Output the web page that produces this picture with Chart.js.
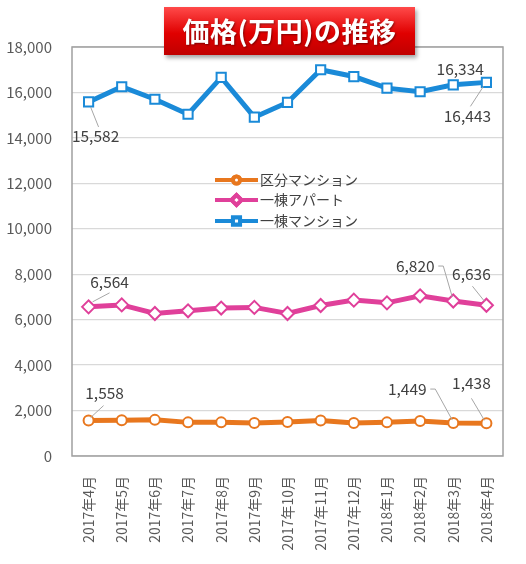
<!DOCTYPE html>
<html>
<head>
<meta charset="utf-8">
<script src="https://cdn.jsdelivr.net/npm/chart.js@4.4.0/dist/chart.umd.min.js"></script>
<style>
  html, body { margin: 0; padding: 0; background: #fff; }
  #wrap { position: relative; width: 526px; height: 564px; }
  #title {
    position: absolute; left: 164px; top: 7px; width: 251px; height: 48px;
    background: linear-gradient(#ff4a4a, #e00000 55%, #c00000);
    box-shadow: 2px 3px 4px rgba(0,0,0,0.35);
    color: #fff; font: bold 27px "Noto Sans CJK JP", sans-serif;
    text-align: center; line-height: 48px; letter-spacing: 0.5px;
    text-shadow: 1px 1px 2px rgba(0,0,0,0.4);
  }
</style>
</head>
<body>
<div id="wrap">
  <canvas id="chart" width="526" height="564"></canvas>
  <div id="title">価格(万円)の推移</div>
</div>
<script>
// data
const months = ["2017年4月", "2017年5月", "2017年6月", "2017年7月", "2017年8月", "2017年9月",
  "2017年10月", "2017年11月", "2017年12月", "2018年1月", "2018年2月", "2018年3月", "2018年4月"];
const kubunMansion = [1558, 1570, 1590, 1480, 1480, 1450, 1500, 1558, 1450, 1480, 1540, 1449, 1438];
const ittoApart = [6564, 6650, 6270, 6390, 6510, 6540, 6270, 6625, 6860, 6740, 7050, 6820, 6636];
const ittoMansion = [15582, 16250, 15700, 15040, 16660, 14910, 15560, 17000, 16700, 16190, 16030, 16334, 16443];
const yTicks = [0, 2000, 4000, 6000, 8000, 10000, 12000, 14000, 16000, 18000];

const FONT = '"Noto Sans CJK JP", sans-serif';
const TEXT = "#595959";

// which points get a value label, and where the label / leader line sit (px, relative to point)
const labelSpots = [
  [ // 区分マンション
    { i: 0, dx: 16, dy: -27, leader: [[2, -3], [15, -15]] },
    { i: 11, dx: -46, dy: -34, leader: [[-23, -34], [-18, -34], [-1, -3]] },
    { i: 12, dx: -15, dy: -40, leader: [[-15, -25], [-2, -3]] }
  ],
  [ // 一棟アパート
    { i: 0, dx: 21, dy: -25, leader: [[4, -5], [21, -14]] },
    { i: 11, dx: -38, dy: -35, leader: [[-15, -35], [-10, -35], [-1, -4]] },
    { i: 12, dx: -15, dy: -31, leader: [[-14, -19], [-2, -4]] }
  ],
  [ // 一棟マンション
    { i: 0, dx: 7, dy: 34, leader: [[2, 5], [10, 25]] },
    { i: 11, dx: 7, dy: -16, leader: [] },
    { i: 12, dx: -19, dy: 34, leader: [[-3, 4], [-16, 24]] }
  ]
];

const valueLabels = {
  id: "valueLabels",
  afterDatasetsDraw(chart) {
    const ctx = chart.ctx;
    ctx.save();
    chart.data.datasets.forEach((ds, d) => {
      const meta = chart.getDatasetMeta(d);
      labelSpots[d].forEach(s => {
        const pt = meta.data[s.i];
        if (s.leader.length) {
          ctx.strokeStyle = "#a6a6a6";
          ctx.lineWidth = 1;
          ctx.beginPath();
          s.leader.forEach((p, k) => {
            if (k === 0) ctx.moveTo(pt.x + p[0], pt.y + p[1]);
            else ctx.lineTo(pt.x + p[0], pt.y + p[1]);
          });
          ctx.stroke();
        }
        ctx.fillStyle = "#404040";
        ctx.font = "15.5px " + FONT;
        ctx.textAlign = "center";
        ctx.textBaseline = "middle";
        ctx.fillText(ds.data[s.i].toLocaleString("en-US"), pt.x + s.dx, pt.y + s.dy);
      });
    });
    ctx.restore();
  }
};

// legend drawn inside the plot area, as in the original
const innerLegend = {
  id: "innerLegend",
  afterDraw(chart) {
    const ctx = chart.ctx;
    const x0 = 215, rows = [180, 200, 221];
    ctx.save();
    chart.data.datasets.forEach((ds, d) => {
      const y = rows[d];
      ctx.strokeStyle = ds.borderColor;
      ctx.lineWidth = 4;
      ctx.beginPath();
      ctx.moveTo(x0, y);
      ctx.lineTo(x0 + 43, y);
      ctx.stroke();
      Chart.helpers.drawPoint(ctx, {
        pointStyle: ds.pointStyle, radius: ds.pointRadius - 1.5, borderWidth: 2
      }, x0 + 21.5, y);
      ctx.fillStyle = "#fff";
      ctx.strokeStyle = ds.borderColor;
      ctx.fill();
      ctx.stroke();
      ctx.fillStyle = "#404040";
      ctx.font = "14px " + FONT;
      ctx.textAlign = "left";
      ctx.textBaseline = "middle";
      ctx.fillText(ds.label, x0 + 45, y);
    });
    ctx.restore();
  }
};

const frame = {
  id: "frame",
  beforeDatasetsDraw(chart) {
    const a = chart.chartArea, ctx = chart.ctx;
    ctx.save();
    ctx.strokeStyle = "#a0a0a0";
    ctx.lineWidth = 1.5;
    ctx.strokeRect(a.left, a.top, a.right - a.left, a.bottom - a.top);
    ctx.restore();
  }
};

new Chart(document.getElementById("chart"), {
  type: "line",
  data: {
    labels: months,
    datasets: [
      {
        label: "区分マンション", data: kubunMansion,
        borderColor: "#e8771e", backgroundColor: "#fff",
        borderWidth: 5, pointStyle: "circle", pointRadius: 5,
        pointBorderWidth: 2, pointBackgroundColor: "#fff", tension: 0
      },
      {
        label: "一棟アパート", data: ittoApart,
        borderColor: "#e0409a", backgroundColor: "#fff",
        borderWidth: 5, pointStyle: "rectRot", pointRadius: 6.5,
        pointBorderWidth: 2, pointBackgroundColor: "#fff", tension: 0
      },
      {
        label: "一棟マンション", data: ittoMansion,
        borderColor: "#1a8ad8", backgroundColor: "#fff",
        borderWidth: 5, pointStyle: "rect", pointRadius: 6.5,
        pointBorderWidth: 2, pointBackgroundColor: "#fff", tension: 0
      }
    ]
  },
  options: {
    responsive: false,
    animation: false,
    layout: { padding: { top: 47, right: 23, left: 0, bottom: 0 } },
    plugins: { legend: { display: false }, tooltip: { enabled: false } },
    scales: {
      x: {
        offset: true,
        grid: { display: false },
        border: { display: false },
        ticks: {
          color: TEXT, font: { family: FONT, size: 14 },
          minRotation: 90, maxRotation: 90, padding: 12, autoSkip: false
        },
        afterFit(scale) { scale.height = 108; }
      },
      y: {
        min: 0, max: 18000,
        afterBuildTicks(scale) { scale.ticks = yTicks.map(v => ({ value: v })); },
        grid: { color: "#d9d9d9", lineWidth: 1.3, drawTicks: false },
        border: { display: false },
        ticks: {
          color: TEXT, font: { family: FONT, size: 15 }, padding: 20,
          callback: v => v.toLocaleString("en-US")
        },
        afterFit(scale) { scale.width = 72; }
      }
    }
  },
  plugins: [frame, valueLabels, innerLegend]
});
</script>
</body>
</html>
